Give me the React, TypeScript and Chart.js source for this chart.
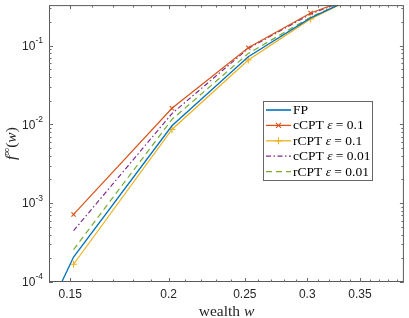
import React, { useEffect, useRef } from 'react';
import { Chart, registerables } from 'chart.js';
Chart.register(...registerables);

// wealth grid (x) and f-infinity values (y)
const wealth = [0.1515, 0.202, 0.2525, 0.303, 0.3535];
const fpWealth = [0.14, 0.1515, 0.202, 0.2525, 0.303, 0.3535];
const fpValues = [3.9e-5, 2.07e-4, 9.6e-3, 0.0722, 0.224, 0.46];
const cCPT01 = [7.2e-4, 0.016, 0.0936, 0.2585, 0.455];
const rCPT01 = [1.68e-4, 8.6e-3, 0.0655, 0.2176, 0.46];
const cCPT001 = [4.47e-4, 0.0137, 0.0917, 0.251, 0.455];
const rCPT001 = [2.58e-4, 0.01155, 0.0794, 0.2285, 0.46];

const xMajorTicks = [0.15, 0.2, 0.25, 0.3, 0.35];
const xTickLabels = ['0.15', '0.2', '0.25', '0.3', '0.35'];
const xMinorTicks = [0.16, 0.17, 0.18, 0.19, 0.21, 0.22, 0.23, 0.24, 0.26, 0.27, 0.28, 0.29, 0.31, 0.32, 0.33, 0.34, 0.36, 0.37, 0.38, 0.39];
const yMajorExps = [-4, -3, -2, -1];

const C_BLUE = '#0072BD';
const C_RED = '#D95319';
const C_YEL = '#EDB120';
const C_PUR = '#7E2F8E';
const C_GRN = '#77AC30';

type Part = { t: string; font: string; dy?: number };

function richWidth(ctx: CanvasRenderingContext2D, parts: Part[]) {
  let w = 0;
  for (const p of parts) { ctx.font = p.font; w += ctx.measureText(p.t).width; }
  return w;
}
function drawRich(ctx: CanvasRenderingContext2D, parts: Part[], x: number, y: number) {
  let cx = x;
  for (const p of parts) {
    ctx.font = p.font;
    ctx.fillText(p.t, cx, y + (p.dy || 0));
    cx += ctx.measureText(p.t).width;
  }
}

const SERIF = '"Liberation Serif", "DejaVu Serif", serif';
const SANS = '"Liberation Sans", Arial, sans-serif';
const LF = `13.5px ${SERIF}`;
const LFI = `italic 13.5px ${SERIF}`;

const legendItems = [
  { color: C_BLUE, dash: [] as number[], marker: '', parts: [{ t: 'FP', font: LF }] },
  { color: C_RED, dash: [], marker: 'x', parts: [{ t: 'cCPT ', font: LF }, { t: 'ε', font: LFI }, { t: ' = ', font: LF }, { t: '0.1', font: LF }] },
  { color: C_YEL, dash: [], marker: '+', parts: [{ t: 'rCPT ', font: LF }, { t: 'ε', font: LFI }, { t: ' = ', font: LF }, { t: '0.1', font: LF }] },
  { color: C_PUR, dash: [5, 2.5, 1.5, 2.5], marker: '', parts: [{ t: 'cCPT ', font: LF }, { t: 'ε', font: LFI }, { t: ' = ', font: LF }, { t: '0.01', font: LF }] },
  { color: C_GRN, dash: [6, 4], marker: '', parts: [{ t: 'rCPT ', font: LF }, { t: 'ε', font: LFI }, { t: ' = ', font: LF }, { t: '0.01', font: LF }] },
];

const axesPlugin = {
  id: 'matlabAxes',
  afterDraw(chart: any) {
    const ctx: CanvasRenderingContext2D = chart.ctx;
    const { left, right, top, bottom } = chart.chartArea;
    const xs = chart.scales.x;
    const ys = chart.scales.y;
    ctx.save();
    ctx.strokeStyle = '#5a5a5a';
    ctx.lineWidth = 1;
    ctx.setLineDash([]);
    ctx.strokeRect(left + 0.5, top + 0.5, right - left - 1, bottom - top - 1);
    const tick = (x1: number, y1: number, x2: number, y2: number) => {
      ctx.beginPath(); ctx.moveTo(x1, y1); ctx.lineTo(x2, y2); ctx.stroke();
    };
    ctx.strokeStyle = '#6a6a6a';
    for (const v of xMajorTicks) {
      const px = Math.round(xs.getPixelForValue(v)) + 0.5;
      tick(px, bottom, px, bottom - 4); tick(px, top, px, top + 4);
    }
    for (const v of xMinorTicks) {
      const px = Math.round(xs.getPixelForValue(v)) + 0.5;
      tick(px, bottom, px, bottom - 2.5); tick(px, top, px, top + 2.5);
    }
    for (const e of yMajorExps) {
      const py = Math.round(ys.getPixelForValue(Math.pow(10, e))) + 0.5;
      tick(left, py, left + 4, py); tick(right, py, right - 4, py);
      for (let m = 2; m <= 9; m++) {
        const v = m * Math.pow(10, e);
        if (v > ys.max) break;
        const pm = Math.round(ys.getPixelForValue(v)) + 0.5;
        tick(left, pm, left + 2.5, pm); tick(right, pm, right - 2.5, pm);
      }
    }
    ctx.fillStyle = '#262626';
    ctx.textBaseline = 'middle';
    ctx.textAlign = 'center';
    ctx.font = `12px ${SANS}`;
    xMajorTicks.forEach((v, i) => {
      ctx.fillText(xTickLabels[i], xs.getPixelForValue(v), bottom + 13);
    });
    ctx.textAlign = 'left';
    for (const e of yMajorExps) {
      const py = ys.getPixelForValue(Math.pow(10, e));
      const parts: Part[] = [{ t: '10', font: `12px ${SANS}`, dy: 1 }, { t: String(e), font: `8.5px ${SANS}`, dy: -5 }];
      const w = richWidth(ctx, parts);
      drawRich(ctx, parts, left - 6 - w, py);
    }
    const xt: Part[] = [{ t: 'wealth ', font: `15.5px ${SERIF}` }, { t: 'w', font: `italic 15.5px ${SERIF}` }];
    const xw = richWidth(ctx, xt);
    drawRich(ctx, xt, (left + right) / 2 - xw / 2, bottom + 30);
    ctx.save();
    ctx.translate(12, (top + bottom) / 2);
    ctx.rotate(-Math.PI / 2);
    const yt: Part[] = [
      { t: 'f', font: `italic 15.5px ${SERIF}` },
      { t: '∞', font: `11px ${SERIF}`, dy: -5 },
      { t: '(', font: `15.5px ${SERIF}` },
      { t: 'w', font: `italic 15.5px ${SERIF}` },
      { t: ')', font: `15.5px ${SERIF}` },
    ];
    const yw = richWidth(ctx, yt);
    drawRich(ctx, yt, -yw / 2, 0);
    ctx.restore();

    const lx = 263, ly = 101, lw = 109, lh = 79;
    ctx.fillStyle = '#ffffff';
    ctx.fillRect(lx, ly, lw, lh);
    ctx.strokeStyle = '#666666';
    ctx.lineWidth = 1;
    ctx.strokeRect(lx + 0.5, ly + 0.5, lw, lh);
    legendItems.forEach((it, i) => {
      const y = 110 + i * 15.4;
      ctx.strokeStyle = it.color;
      ctx.lineWidth = i === 0 ? 1.6 : 1.3;
      ctx.setLineDash(it.dash);
      ctx.beginPath(); ctx.moveTo(266, y); ctx.lineTo(291, y); ctx.stroke();
      ctx.setLineDash([]);
      const mx = 278.5;
      if (it.marker === 'x') {
        ctx.lineWidth = 1.1;
        tick(mx - 2.5, y - 2.5, mx + 2.5, y + 2.5); tick(mx - 2.5, y + 2.5, mx + 2.5, y - 2.5);
      } else if (it.marker === '+') {
        ctx.lineWidth = 1.1;
        tick(mx - 3.5, y, mx + 3.5, y); tick(mx, y - 3.5, mx, y + 3.5);
      }
      ctx.fillStyle = '#000000';
      ctx.textAlign = 'left';
      ctx.textBaseline = 'middle';
      drawRich(ctx, it.parts, 293, y + 0.5);
    });
    ctx.restore();
  },
};

export default function App() {
  const ref = useRef<HTMLCanvasElement | null>(null);
  useEffect(() => {
    document.body.style.margin = '0';
    const canvas = ref.current;
    if (!canvas) return;
    const pts = (xs: number[], ys: number[]) => xs.map((x, i) => ({ x, y: ys[i] }));
    const chart = new Chart(canvas, {
      type: 'line',
      data: {
        datasets: [
          { label: 'FP', data: pts(fpWealth, fpValues), borderColor: C_BLUE, borderWidth: 1.3, pointRadius: 0, fill: false, order: 1 },
          { label: 'cCPT ε = 0.1', data: pts(wealth, cCPT01), borderColor: C_RED, borderWidth: 1.2, pointStyle: 'crossRot', pointRadius: 3, pointBorderColor: C_RED, pointBorderWidth: 1.1, fill: false, order: 2 },
          { label: 'rCPT ε = 0.1', data: pts(wealth, rCPT01), borderColor: C_YEL, borderWidth: 1.2, pointStyle: 'cross', pointRadius: 3.5, pointBorderColor: C_YEL, pointBorderWidth: 1.1, fill: false, order: 3 },
          { label: 'cCPT ε = 0.01', data: pts(wealth, cCPT001), borderColor: C_PUR, borderWidth: 1.2, borderDash: [5, 2.5, 1.5, 2.5], pointRadius: 0, fill: false, order: 4 },
          { label: 'rCPT ε = 0.01', data: pts(wealth, rCPT001), borderColor: C_GRN, borderWidth: 1.2, borderDash: [6, 4], pointRadius: 0, fill: false, order: 5 },
        ] as any,
      },
      options: {
        responsive: false,
        animation: false,
        layout: { padding: { left: 49, right: 4, top: 1, bottom: 36 } },
        scales: {
          x: { type: 'logarithmic', min: 0.141, max: 0.398, display: false },
          y: { type: 'logarithmic', min: 1e-4, max: 0.3256, display: false },
        },
        plugins: { legend: { display: false }, tooltip: { enabled: false } },
      },
      plugins: [axesPlugin],
    });
    return () => chart.destroy();
  }, []);
  return <canvas ref={ref} width={409} height={318} style={{ display: 'block' }} />;
}
